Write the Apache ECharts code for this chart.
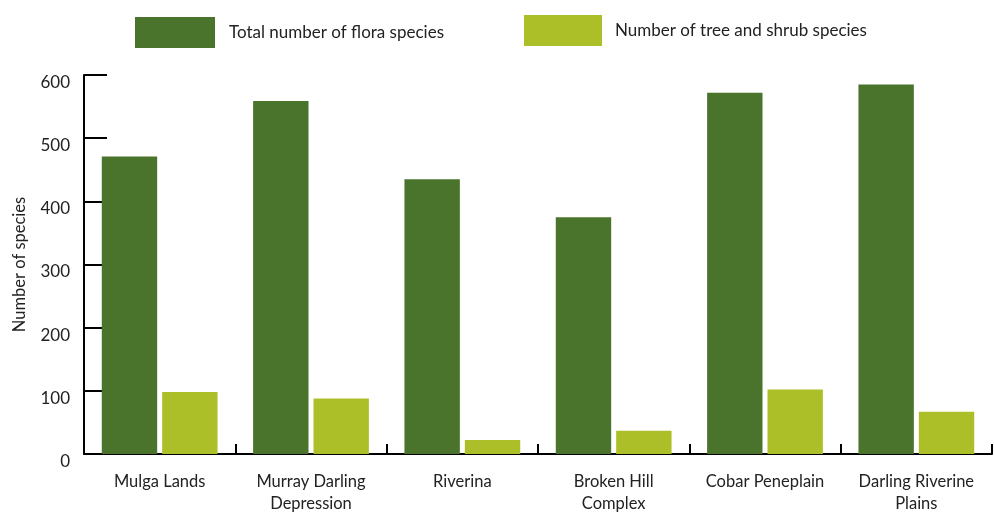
<!DOCTYPE html>
<html><head><meta charset="utf-8">
<script src="https://cdn.jsdelivr.net/npm/echarts@6/dist/echarts.min.js"></script>
<style>html,body{margin:0;padding:0;background:#fff}#c{width:994px;height:513px}</style>
</head><body><div id="c"></div>
<script>
const categories = ['Mulga Lands', 'Murray Darling\nDepression', 'Riverina', 'Broken Hill\nComplex', 'Cobar Peneplain', 'Darling Riverine\nPlains'];
const totalFlora = [471, 559, 435, 375, 572, 585];
const treeShrub = [98, 88, 22, 37, 102, 67];
const seriesNames = ['Total number of flora species', 'Number of tree and shrub species'];
const yTicks = [0, 100, 200, 300, 400, 500, 600];

const FONT = 'Lato';
const chart = echarts.init(document.getElementById('c'), null, {renderer: 'canvas'});
chart.setOption({
  animation: false,
  textStyle: {fontFamily: FONT},
  legend: [
    {data: [seriesNames[0]], left: 135, top: 17, padding: 0, itemWidth: 80, itemHeight: 31, icon: 'rect',
     textStyle: {fontSize: 17, color: '#222', fontFamily: FONT, padding: [9, 0, 0, 9]}},
    {data: [seriesNames[1]], left: 524, top: 15, padding: 0, itemWidth: 78, itemHeight: 31, icon: 'rect',
     textStyle: {fontSize: 17, color: '#222', fontFamily: FONT, padding: [9, 0, 0, 8]}}
  ],
  grid: {left: 84, top: 75, width: 908, height: 379, containLabel: false, outerBoundsMode: 'none'},
  xAxis: {
    type: 'category', data: categories,
    axisLine: {lineStyle: {color: '#000', width: 2}},
    axisTick: {show: true, inside: true, length: 10, interval: 0, lineStyle: {color: '#000', width: 2}},
    axisLabel: {fontSize: 16.5, color: '#222', margin: 17, lineHeight: 22, interval: 0, fontFamily: FONT}
  },
  yAxis: {
    type: 'value', min: 0, max: 600, interval: 100,
    name: 'Number of species', nameLocation: 'middle', nameGap: 56, nameRotate: 90,
    nameTextStyle: {fontSize: 16.5, color: '#222', fontFamily: FONT},
    axisLine: {show: true, lineStyle: {color: '#000', width: 2}},
    axisTick: {show: true, inside: true, length: 23, lineStyle: {color: '#000', width: 2}},
    splitLine: {show: false},
    axisLabel: {fontSize: 17, color: '#222', margin: 14, fontFamily: FONT, verticalAlign: 'top', lineHeight: 15,
      formatter: v => yTicks.includes(v) ? String(v) : ''}
  },
  series: [
    {name: seriesNames[0], type: 'bar', data: totalFlora, barGap: '9%', barCategoryGap: '23.5%',
     itemStyle: {color: '#4a742b'}},
    {name: seriesNames[1], type: 'bar', data: treeShrub,
     itemStyle: {color: '#acbf28'}}
  ]
});
</script></body></html>
